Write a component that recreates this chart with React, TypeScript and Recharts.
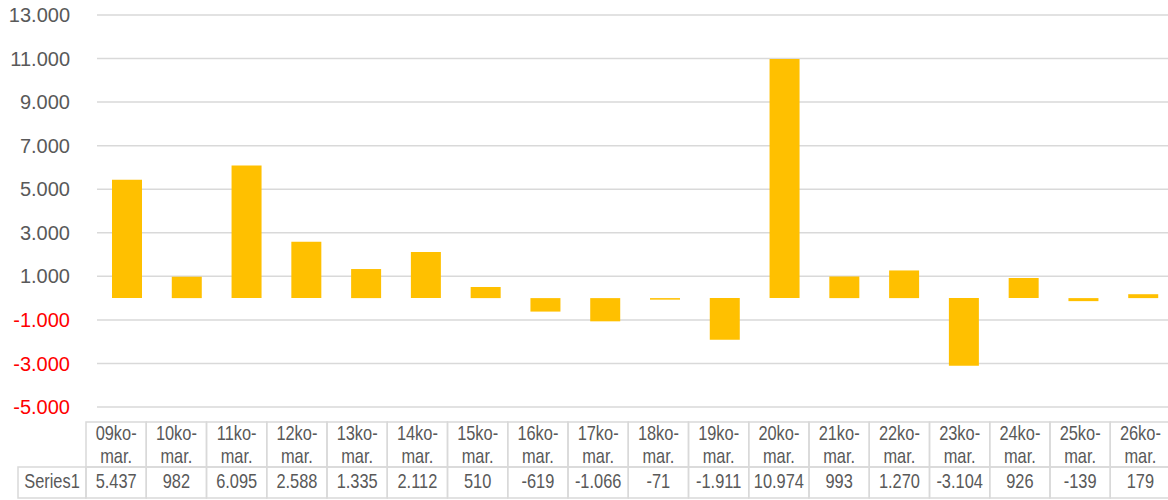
import React from 'react';
import { BarChart, Bar, XAxis, YAxis, CartesianGrid } from 'recharts';

// daily values
const categories = [
  '09ko-mar.', '10ko-mar.', '11ko-mar.', '12ko-mar.', '13ko-mar.', '14ko-mar.',
  '15ko-mar.', '16ko-mar.', '17ko-mar.', '18ko-mar.', '19ko-mar.', '20ko-mar.',
  '21ko-mar.', '22ko-mar.', '23ko-mar.', '24ko-mar.', '25ko-mar.', '26ko-mar.',
];
const series1 = [
  5437, 982, 6095, 2588, 1335, 2112, 510, -619, -1066, -71, -1911, 10974,
  993, 1270, -3104, 926, -139, 179,
];
const yTicks = [-5000, -3000, -1000, 1000, 3000, 5000, 7000, 9000, 11000, 13000];
const seriesName = 'Series1';

const data = categories.map((name, i) => ({ name, [seriesName]: series1[i] }));

const fmt = (v: number) => {
  const s = Math.abs(v).toString().replace(/\B(?=(\d{3})+(?!\d))/g, '.');
  return (v < 0 ? '-' : '') + s;
};

const GRID = '#d9d9d9';
const TEXT = '#595959';
const TABLE_FONT = '"Liberation Sans", Arial, sans-serif';

// table geometry (the original chart runs a little past the right edge)
const tLeft = 86;
const colW = 60.25;
const rowTop = 422;
const rowMid = 467;
const rowBot = 498;
const labelLeft = 18;

// no narrow font installed, so squeeze the table text horizontally
const Narrow = ({ cx, y, children }: { cx: number; y: number; children: React.ReactNode }) => (
  <text transform={`translate(${cx} ${y}) scale(0.82 1)`} textAnchor="middle" fontSize={20}
    fontFamily={TABLE_FONT} fill={TEXT}>
    {children}
  </text>
);

const YTick = (props: any) => {
  const { x, y, payload } = props;
  const v = payload.value as number;
  return (
    <text x={x} y={y} dy="0.355em" textAnchor="end" fontSize={20}
      fontFamily='"Liberation Sans", Arial, sans-serif' fill={v < 0 ? '#ff0000' : TEXT}>
      {fmt(v)}
    </text>
  );
};

const TableTick = (props: any) => {
  const { payload } = props;
  const i = payload.index as number;
  const x0 = tLeft + i * colW;
  const cx = x0 + colW / 2;
  const [a, b] = (payload.value as string).split('-');
  return (
    <g>
      {i === 0 && (
        <g>
          <rect x={labelLeft} y={rowMid} width={tLeft - labelLeft} height={rowBot - rowMid}
            fill="none" stroke={GRID} strokeWidth={1.5} />
          <Narrow cx={(labelLeft + tLeft) / 2} y={488}>{seriesName}</Narrow>
        </g>
      )}
      <rect x={x0} y={rowTop} width={colW} height={rowMid - rowTop} fill="none" stroke={GRID} strokeWidth={1.5} />
      <rect x={x0} y={rowMid} width={colW} height={rowBot - rowMid} fill="none" stroke={GRID} strokeWidth={1.5} />
      <Narrow cx={cx} y={440}>{a + '-'}</Narrow>
      <Narrow cx={cx} y={463}>{b}</Narrow>
      <Narrow cx={cx} y={488}>{fmt(series1[i])}</Narrow>
    </g>
  );
};

export default function App() {
  return (
    <div style={{ position: 'absolute', left: 0, top: 0, width: 1168, height: 500, overflow: 'hidden', background: '#fff' }}>
      <BarChart width={1173} height={500} data={data}
        margin={{ top: 15, right: 0, bottom: 0, left: 0 }} barSize={30}>
        <CartesianGrid vertical={false} stroke={GRID} strokeWidth={1.5} />
        <XAxis dataKey="name" height={93} interval={0} axisLine={false} tickLine={false} tick={<TableTick />} />
        <YAxis width={97} domain={[-5000, 13000]} ticks={yTicks} interval={0} axisLine={false}
          tickLine={false} tickSize={0} tickMargin={27} tick={<YTick />} />
        <Bar dataKey={seriesName} fill="#ffc000" isAnimationActive={false} />
      </BarChart>
    </div>
  );
}
